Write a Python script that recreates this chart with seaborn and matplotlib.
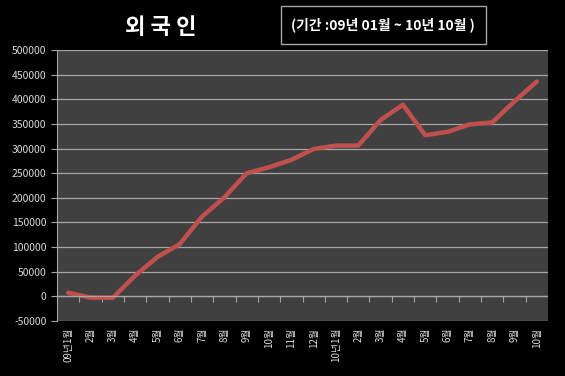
import pandas as pd
import seaborn as sns
import matplotlib.pyplot as plt
import matplotlib.patches as mpatches

months = ["09년1월", "2월", "3월", "4월", "5월", "6월", "7월", "8월", "9월", "10월", "11월", "12월",
          "10년1월", "2월", "3월", "4월", "5월", "6월", "7월", "8월", "9월", "10월"]
values = [7500, -2500, -3000, 42000, 80000, 106000, 162000, 201000, 250000, 262000, 277000, 299000,
          306000, 306000, 358000, 389000, 327000, 334000, 349000, 353000, 396000, 436000]

data = pd.DataFrame({"idx": range(len(values)), "value": values})

sns.set_style("dark")
plt.rcParams['font.family'] = ['Noto Sans CJK KR', 'DejaVu Sans']

fig = plt.figure(figsize=(5.65, 3.76), dpi=100, facecolor="black")
ax = fig.add_axes([57/565, 1-321/376, (548-57)/565, (321-50)/376])
ax.set_facecolor("#404040")

sns.lineplot(data=data, x="idx", y="value", ax=ax, color="#c0504d", linewidth=3.2)

ymin, ymax = -50000, 500000
ax.set_xlim(-0.5, len(values) - 0.5)
ax.set_ylim(ymin, ymax)
ax.set_yticks(range(ymin, ymax + 1, 50000))
ax.set_yticklabels([str(v) for v in range(ymin, ymax + 1, 50000)], fontsize=7.5, color="#d9d9d9")
ax.yaxis.grid(True, color="#a6a6a6", linewidth=0.9)
ax.xaxis.grid(False)
ax.set_xticks(range(len(values)))
ax.set_xticklabels(months, rotation=90, fontsize=7, color="#d9d9d9", va="top")
ax.tick_params(axis="x", length=0, pad=5)
ax.tick_params(axis="y", length=4, color="#a6a6a6", direction="out", left=True)
ax.set_xlabel("")
ax.set_ylabel("")
for s in ["top", "right", "bottom"]:
    ax.spines[s].set_visible(False)
ax.spines["left"].set_color("#a6a6a6")
ax.axhline(0, color="#a6a6a6", linewidth=0.9)

# category tick marks on the zero line
zero_ax = ax.secondary_xaxis((0 - ymin) / (ymax - ymin))
zero_ax.set_xticks([i + 0.5 for i in range(len(values) - 1)])
zero_ax.set_xticklabels([])
zero_ax.tick_params(axis="x", length=4, color="#a6a6a6", direction="out")
zero_ax.spines["bottom"].set_visible(False)

fig.text(161/565, 1-27/376, "외 국 인", color="white", fontsize=16, fontweight="bold", ha="center", va="center")
fig.patches.append(mpatches.Rectangle((281/565, 1-44/376), 205/565, 38/376, transform=fig.transFigure,
                                      facecolor="black", edgecolor="#a6a6a6", linewidth=1))
fig.text(383/565, 1-25/376, "(기간 :09년 01월 ~ 10년 10월 )", color="white", fontsize=10,
         fontweight="bold", ha="center", va="center")

fig.savefig("out.png", dpi=100, facecolor="black")
